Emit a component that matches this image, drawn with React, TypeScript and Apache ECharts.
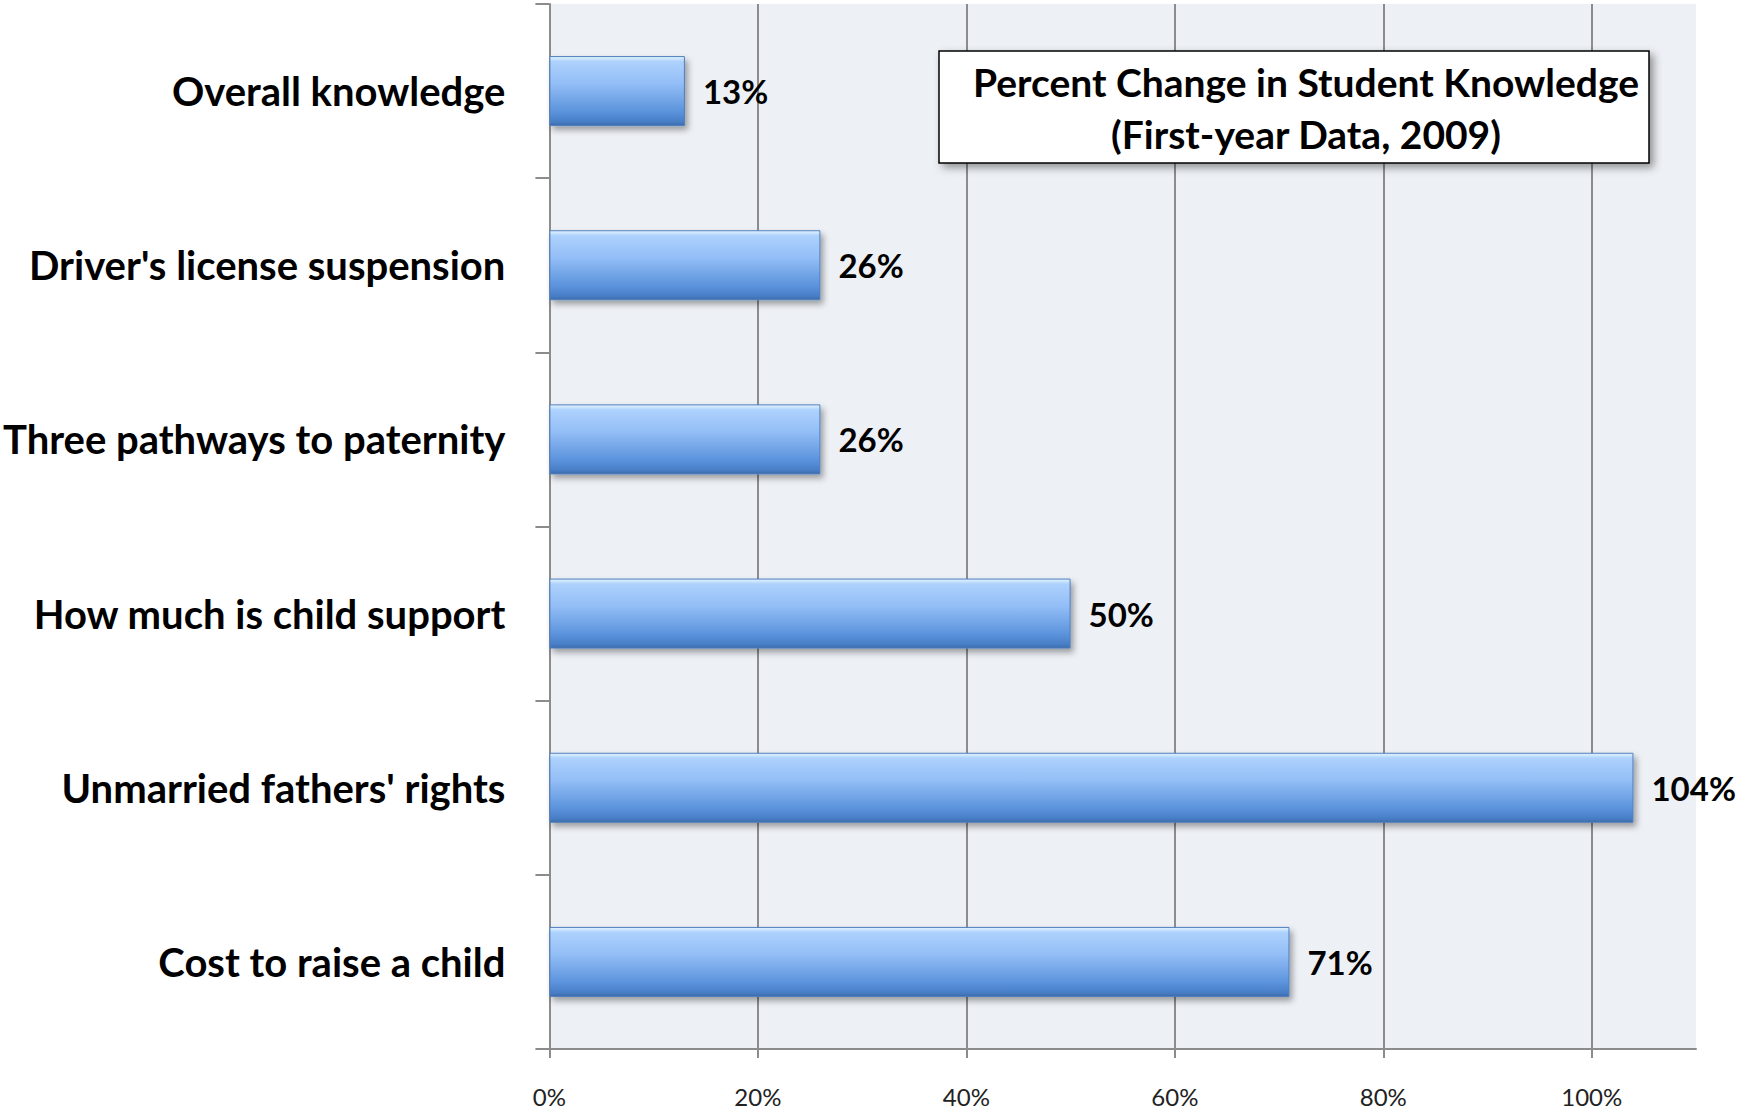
import React, { useEffect, useRef } from "react";
import * as echarts from "echarts";

const categories = [
  "Overall knowledge",
  "Driver's license suspension",
  "Three pathways to paternity",
  "How much is child support",
  "Unmarried fathers' rights",
  "Cost to raise a child",
];
const percentChange = [13, 26, 26, 50, 104, 71];
const xTicks = [0, 20, 40, 60, 80, 100];
const titleLines = ["Percent Change in Student Knowledge", "(First-year Data, 2009)"];

const FONT = "Lato, 'Open Sans', sans-serif";

export default function App() {
  const ref = useRef<HTMLDivElement>(null);
  useEffect(() => {
    if (!ref.current) return;
    const chart = echarts.init(ref.current, undefined, { renderer: "svg" });
    const barGradient = new echarts.graphic.LinearGradient(0, 0, 0, 1, [
      { offset: 0, color: "#e6f6ff" },
      { offset: 0.07, color: "#aed2fd" },
      { offset: 0.4, color: "#92bdf6" },
      { offset: 0.8, color: "#5b93dc" },
      { offset: 0.95, color: "#477dc5" },
      { offset: 1, color: "#3d6aa6" },
    ]);
    chart.setOption({
      animation: false,
      backgroundColor: "#ffffff",
      grid: {
        left: 540,
        right: 43,
        top: 4,
        bottom: 69,
        show: true,
        backgroundColor: "#edf0f5",
        borderWidth: 0,
      },
      xAxis: {
        type: "value",
        min: 0,
        max: 110,
        interval: 20,
        axisLine: { show: true, lineStyle: { color: "#8c8c8c", width: 2 } },
        axisTick: {
          show: true,
          length: 9,
          lineStyle: { color: "#8c8c8c", width: 2 },
          customValues: xTicks,
        },
        splitLine: {
          show: true,
          lineStyle: { color: "#8c8c8c", width: 2 },
        },
        axisLabel: {
          customValues: xTicks,
          formatter: "{value}%",
          fontFamily: FONT,
          fontSize: 24,
          color: "#222",
          margin: 35,
        },
      },
      yAxis: {
        type: "category",
        data: categories,
        inverse: true,
        axisLine: { show: true, lineStyle: { color: "#8c8c8c", width: 2 } },
        axisTick: { show: true, length: 14, lineStyle: { color: "#8c8c8c", width: 2 } },
        axisLabel: {
          fontFamily: FONT,
          fontWeight: "bold",
          fontSize: 40,
          color: "#000",
          margin: 44,
        },
      },
      series: [
        {
          type: "bar",
          data: percentChange,
          barWidth: 70,
          itemStyle: {
            color: barGradient,
            borderColor: "#4f7fbf",
            borderWidth: 1,
            shadowColor: "rgba(0,0,0,0.35)",
            shadowBlur: 6,
            shadowOffsetX: 3,
            shadowOffsetY: 4,
          },
          label: {
            show: true,
            position: "right",
            distance: 18,
            formatter: "{c}%",
            fontFamily: FONT,
            fontWeight: "bold",
            fontSize: 33,
            color: "#000",
          },
        },
      ],
      graphic: [
        {
          type: "rect",
          shape: { x: 939, y: 51, width: 710, height: 112 },
          style: {
            fill: "#ffffff",
            stroke: "#000",
            lineWidth: 1.5,
            shadowColor: "rgba(0,0,0,0.4)",
            shadowBlur: 8,
            shadowOffsetX: 4,
            shadowOffsetY: 4,
          },
          z: 10,
        },
        {
          type: "text",
          x: 1306,
          y: 108,
          style: {
            text: titleLines.join("\n"),
            textAlign: "center",
            textVerticalAlign: "middle",
            fontFamily: FONT,
            fontWeight: "bold",
            fontSize: 39,
            lineHeight: 52,
            fill: "#000",
          },
          z: 11,
        },
      ],
    });
    return () => chart.dispose();
  }, []);
  return (
    <div
      ref={ref}
      style={{ position: "fixed", left: 0, top: 0, width: 1739, height: 1118 }}
    />
  );
}
